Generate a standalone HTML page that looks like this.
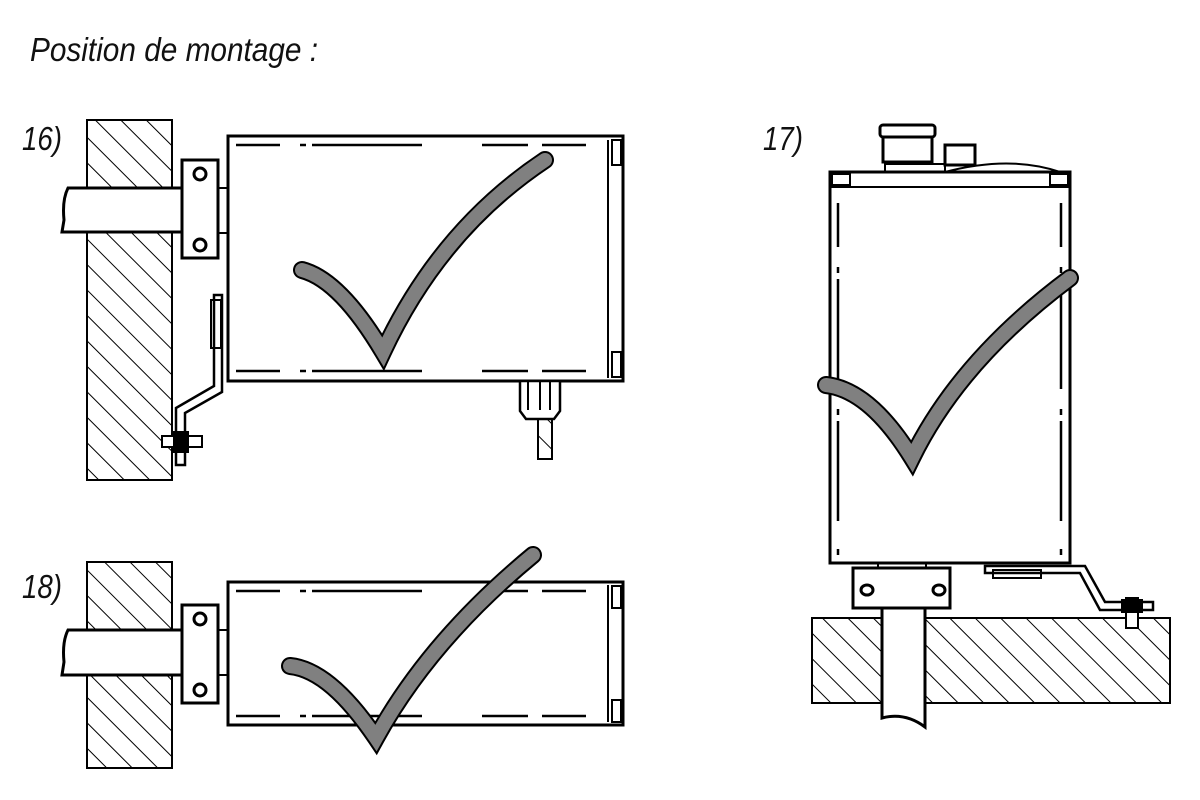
<!DOCTYPE html>
<html><head><meta charset="utf-8"><style>html,body{margin:0;padding:0;background:#fff}svg{display:block}</style></head>
<body>
<svg width="1200" height="800" viewBox="0 0 1200 800" xmlns="http://www.w3.org/2000/svg">
<defs>
<pattern id="h" patternUnits="userSpaceOnUse" width="18" height="18" patternTransform="rotate(-45)">
<line x1="0" y1="0" x2="0" y2="18" stroke="#000" stroke-width="2"/>
</pattern>
</defs>
<g font-family="'Liberation Sans',sans-serif" font-style="italic" fill="#111">
<text x="30" y="61" font-size="33" textLength="288" lengthAdjust="spacingAndGlyphs">Position de montage :</text>
<text x="22" y="150" font-size="33" textLength="40" lengthAdjust="spacingAndGlyphs">16)</text>
<text x="22" y="598" font-size="33" textLength="40" lengthAdjust="spacingAndGlyphs">18)</text>
<text x="763" y="150" font-size="33" textLength="40" lengthAdjust="spacingAndGlyphs">17)</text>
</g>
<g stroke="#000" stroke-width="2" fill="none">
<!-- FIG 16 -->
<rect x="87" y="120" width="85" height="360" fill="url(#h)"/>
<path d="M182 188 H68 Q62 200 64 220 L62 232 H182 Z" fill="#fff" stroke-width="3"/>
<rect x="182" y="160" width="36" height="98" fill="#fff" stroke-width="3"/>
<circle cx="200" cy="174" r="6" stroke-width="3"/><circle cx="200" cy="245" r="6" stroke-width="3"/>
<rect x="218" y="188" width="10" height="45"/>
<rect x="228" y="136" width="395" height="245" fill="#fff" stroke-width="3"/>
<line x1="608" y1="140" x2="608" y2="378"/>
<rect x="612" y="140" width="9" height="25" stroke-width="2"/><rect x="612" y="352" width="9" height="25"/>
<g stroke-width="2.5"><line x1="228" y1="145" x2="600" y2="145" stroke-dasharray="0 8 44 20 6 6 110 60 46 6"/>
<line x1="228" y1="371" x2="600" y2="371" stroke-dasharray="0 8 44 20 6 6 110 60 46 6"/></g>
<path d="M222 295 V392 L185 413 V465 H176 V408 L214 386 V295 Z" fill="#fff" stroke-width="2.5"/>
<rect x="211" y="300" width="10" height="48"/>
<rect x="162" y="436" width="40" height="11" fill="#fff"/><rect x="174" y="432" width="14" height="20" fill="#000"/>
<path d="M520 381 h40 v30 l-6 8 h-28 l-6 -8 z" fill="#fff" stroke-width="2.5"/>
<line x1="528" y1="381" x2="528" y2="410"/><line x1="540" y1="381" x2="540" y2="410"/><line x1="550" y1="381" x2="550" y2="410"/>
<rect x="538" y="419" width="14" height="40" fill="url(#h)"/>
<!-- FIG 18 -->
<rect x="87" y="562" width="85" height="206" fill="url(#h)"/>
<path d="M182 630 H68 Q62 642 64 662 L62 675 H182 Z" fill="#fff" stroke-width="3"/>
<rect x="182" y="605" width="36" height="98" fill="#fff" stroke-width="3"/>
<circle cx="200" cy="619" r="6" stroke-width="3"/><circle cx="200" cy="690" r="6" stroke-width="3"/>
<rect x="218" y="630" width="10" height="45"/>
<rect x="228" y="582" width="395" height="143" fill="#fff" stroke-width="3"/>
<line x1="608" y1="585" x2="608" y2="722"/>
<rect x="612" y="586" width="9" height="22"/><rect x="612" y="700" width="9" height="22"/>
<g stroke-width="2.5"><line x1="228" y1="591" x2="600" y2="591" stroke-dasharray="0 8 44 20 6 6 110 60 46 6"/>
<line x1="228" y1="716" x2="600" y2="716" stroke-dasharray="0 8 44 20 6 6 110 60 46 6"/></g>
<!-- FIG 17 -->
<rect x="812" y="618" width="358" height="85" fill="url(#h)"/>
<path d="M882 608 V718 Q905 712 925 727 V608 Z" fill="#fff" stroke-width="3"/>
<rect x="853" y="568" width="97" height="40" fill="#fff" stroke-width="3"/>
<ellipse cx="867" cy="590" rx="6" ry="5" stroke-width="3"/><ellipse cx="939" cy="590" rx="6" ry="5" stroke-width="3"/>
<rect x="878" y="563" width="48" height="5"/>
<path d="M985 566 H1085 L1105 602 H1153 V610 H1100 L1080 573 H985 Z" fill="#fff" stroke-width="2.5"/>
<rect x="993" y="570" width="48" height="8"/>
<rect x="1126" y="598" width="12" height="30" fill="#fff"/><rect x="1122" y="600" width="20" height="12" fill="#000"/>
<path d="M870 172 h15 v-8 h60 v8 Q1010 155 1060 172" fill="#fff"/>
<rect x="880" y="125" width="55" height="12" rx="3" fill="#fff" stroke-width="3"/>
<rect x="883" y="137" width="49" height="25" fill="#fff" stroke-width="3"/>
<rect x="945" y="145" width="30" height="20" fill="#fff" stroke-width="3"/>
<rect x="830" y="172" width="240" height="391" fill="#fff" stroke-width="3"/>
<line x1="830" y1="187" x2="1070" y2="187"/>
<rect x="832" y="174" width="18" height="11"/><rect x="1050" y="174" width="18" height="11"/>
<g stroke-width="2.5"><line x1="838" y1="195" x2="838" y2="555" stroke-dasharray="0 8 44 20 6 6 110 20 6 6 100 20"/>
<line x1="1061" y1="195" x2="1061" y2="555" stroke-dasharray="0 8 44 20 6 6 110 20 6 6 100 20"/></g>
</g>
<!-- checkmarks -->
<g fill="none" stroke-linecap="round" stroke-linejoin="miter">
<path d="M302 270 Q340 280 383 352 Q440 230 545 160" stroke="#000" stroke-width="18"/>
<path d="M302 270 Q340 280 383 352 Q440 230 545 160" stroke="#808080" stroke-width="14"/>
<path d="M290 666 Q330 670 376 738 Q430 640 533 555" stroke="#000" stroke-width="18"/>
<path d="M290 666 Q330 670 376 738 Q430 640 533 555" stroke="#808080" stroke-width="14"/>
<path d="M826 385 Q870 390 912 458 Q960 360 1070 278" stroke="#000" stroke-width="18"/>
<path d="M826 385 Q870 390 912 458 Q960 360 1070 278" stroke="#808080" stroke-width="14"/>
</g>
</svg>
</body></html>
